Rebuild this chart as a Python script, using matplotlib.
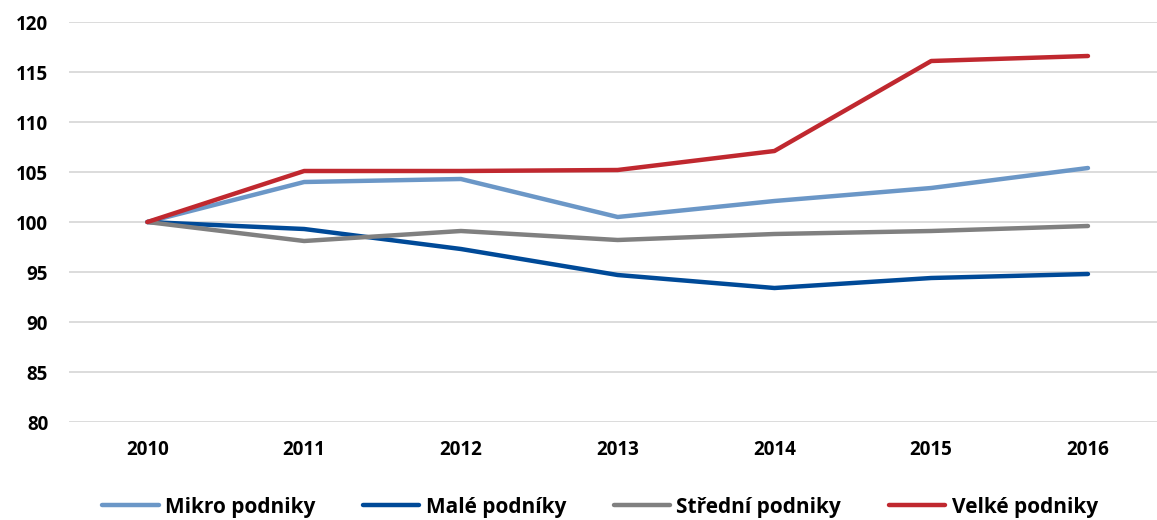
import matplotlib.pyplot as plt

years = ['2010', '2011', '2012', '2013', '2014', '2015', '2016']
mikro = [100, 104.0, 104.3, 100.5, 102.1, 103.4, 105.4]
male = [100, 99.3, 97.3, 94.7, 93.4, 94.4, 94.8]
stredni = [100, 98.1, 99.1, 98.2, 98.8, 99.1, 99.6]
velke = [100, 105.1, 105.1, 105.2, 107.1, 116.1, 116.6]

series = [
    ('Mikro podniky', mikro, '#6B97C7'),
    ('Malé podníky', male, '#004A98'),
    ('Střední podniky', stredni, '#808080'),
    ('Velké podniky', velke, '#C0282F'),
]

plt.rcParams['font.family'] = ['Open Sans', 'DejaVu Sans']
plt.rcParams['font.weight'] = 'bold'

fig = plt.figure(figsize=(11.57, 5.2), dpi=100)
ax = fig.add_axes([69 / 1157, 1 - 422 / 520, 1 - 69 / 1157, 400 / 520])

x = list(range(len(years)))
for name, vals, color in series:
    ax.plot(x, vals, color=color, lw=3.2, label=name, solid_capstyle='round', solid_joinstyle='round')

ax.set_ylim(80, 120)
ax.set_yticks(range(80, 121, 5))
ax.set_xlim(-0.5, 6 + 69 / 156.7)
ax.set_xticks(x)
ax.set_xticklabels(years)
ax.grid(axis='y', color='#D9D9D9', lw=1.3)
ax.set_axisbelow(True)
for s in ax.spines.values():
    s.set_visible(False)
ax.tick_params(length=0, labelsize=13.5, pad=13)
ax.tick_params(axis='y', pad=15)
for lab in ax.get_xticklabels() + ax.get_yticklabels():
    lab.set_fontweight('bold')

leg = fig.legend(loc='center', bbox_to_anchor=(600 / 1157, 1 - 507 / 520), ncol=4, frameon=False,
                 fontsize=15, handlelength=2.7, handletextpad=0.3, columnspacing=2.3)
for t in leg.get_texts():
    t.set_fontweight('bold')

fig.savefig('out.png', dpi=100)
